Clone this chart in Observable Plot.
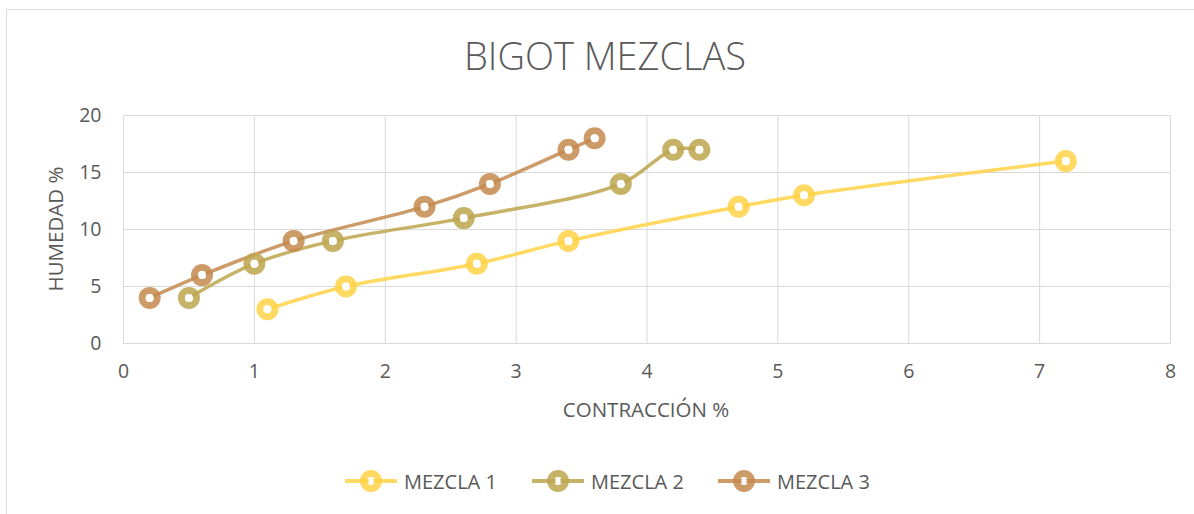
<!DOCTYPE html>
<html>
<head>
<meta charset="utf-8">
<script src="https://cdn.jsdelivr.net/npm/d3@7"></script>
<script src="https://cdn.jsdelivr.net/npm/@observablehq/plot@0.6"></script>
<style>
  html, body { margin: 0; padding: 0; background: #fff; }
  #chart { position: relative; width: 1194px; height: 514px; overflow: hidden; font-family: "Open Sans", sans-serif; color: #595959; }
  #border { position: absolute; left: 6px; top: 9px; width: 1300px; height: 700px; border: 1px solid #d9d9d9; box-sizing: border-box; }
  #plot { position: absolute; left: 0; top: 0; }
  .lbl { position: absolute; line-height: 1; white-space: nowrap; }
  #title { left: 0; width: 1210px; text-align: center; top: 36px; font-size: 38px; font-weight: 300; }
  #xlabel { left: 0; width: 1292px; text-align: center; top: 399px; font-size: 20.5px; }
  #ylabel { left: 55px; top: 229px; font-size: 20.5px; transform: translate(-50%, -50%) rotate(-90deg); }
  #legend { position: absolute; top: 469px; left: 0; width: 1194px; height: 24px; }
  .item { position: absolute; top: 0; height: 24px; display: flex; align-items: center; font-size: 20px; }
  .item svg { margin-right: 7px; }
</style>
</head>
<body>
<div id="chart">
  <div id="border"></div>
  <div id="plot"></div>
  <div class="lbl" id="title">BIGOT MEZCLAS</div>
  <div class="lbl" id="xlabel">CONTRACCIÓN %</div>
  <div class="lbl" id="ylabel">HUMEDAD %</div>
  <div id="legend"></div>
</div>
<script>
// ---- data ----
const seriesNames = ["MEZCLA 1", "MEZCLA 2", "MEZCLA 3"];
const seriesColors = ["#FFD246", "#BCA64E", "#C38A4E"];

const mezcla1X = [1.1, 1.7, 2.7, 3.4, 4.7, 5.2, 7.2];
const mezcla1Y = [3, 5, 7, 9, 12, 13, 16];

const mezcla2X = [0.5, 1.0, 1.6, 2.6, 3.8, 4.2, 4.4];
const mezcla2Y = [4, 7, 9, 11, 14, 17, 17];

const mezcla3X = [0.2, 0.6, 1.3, 2.3, 2.8, 3.4, 3.6];
const mezcla3Y = [4, 6, 9, 12, 14, 17, 18];

const xTicks = [0, 1, 2, 3, 4, 5, 6, 7, 8];
const yTicks = [0, 5, 10, 15, 20];

// ---- build table ----
const xs = [mezcla1X, mezcla2X, mezcla3X];
const ys = [mezcla1Y, mezcla2Y, mezcla3Y];
const data = [];
seriesNames.forEach((s, i) => {
  xs[i].forEach((x, j) => data.push({serie: s, x, y: ys[i][j]}));
});

const color = {domain: seriesNames, range: seriesColors};
const grid = "#d9d9d9";
const fmt = d => String(d);

const chart = Plot.plot({
  width: 1194,
  height: 430,
  marginTop: 115,
  marginLeft: 123,
  marginRight: 24,
  marginBottom: 87,
  style: {fontFamily: "'Open Sans', sans-serif", fontSize: "19.5px", color: "#595959", background: "transparent"},
  x: {domain: [0, 8], ticks: xTicks, label: null},
  y: {domain: [0, 20], ticks: yTicks, label: null},
  color,
  marks: [
    Plot.gridX(xTicks, {stroke: grid, strokeOpacity: 1, strokeWidth: 1}),
    Plot.gridY(yTicks, {stroke: grid, strokeOpacity: 1, strokeWidth: 1}),
    Plot.frame({stroke: grid, strokeWidth: 1}),
    Plot.axisX(xTicks, {tickSize: 0, tickPadding: 21, label: null, fill: "#595959", tickFormat: fmt}),
    Plot.axisY(yTicks, {tickSize: 0, tickPadding: 22, label: null, fill: "#595959", tickFormat: fmt}),
    Plot.line(data, {x: "x", y: "y", z: "serie", stroke: "serie", strokeWidth: 3.5, strokeOpacity: 0.85, curve: "catmull-rom"}),
    Plot.dot(data, {x: "x", y: "y", stroke: "serie", r: 7.5, strokeWidth: 7, fill: "none", strokeOpacity: 0.85}),
    Plot.dot(data, {x: "x", y: "y", r: 4, fill: "white", stroke: "none"})
  ]
});
document.getElementById("plot").appendChild(chart);

// ---- legend ----
const legend = document.getElementById("legend");
const legendLeft = [345, 532, 718];
seriesNames.forEach((s, i) => {
  const item = document.createElement("div");
  item.className = "item";
  item.style.left = legendLeft[i] + "px";
  const c = seriesColors[i];
  item.innerHTML =
    `<svg width="52" height="24"><line x1="1" x2="51" y1="12" y2="12" stroke="${c}" stroke-opacity="0.85" stroke-width="4" stroke-linecap="round"/>` +
    `<circle cx="26" cy="12" r="7.5" fill="none" stroke="${c}" stroke-opacity="0.85" stroke-width="7"/>` +
    `<circle cx="26" cy="12" r="2.5" fill="white"/></svg><span>${s}</span>`;
  legend.appendChild(item);
});
</script>
</body>
</html>
